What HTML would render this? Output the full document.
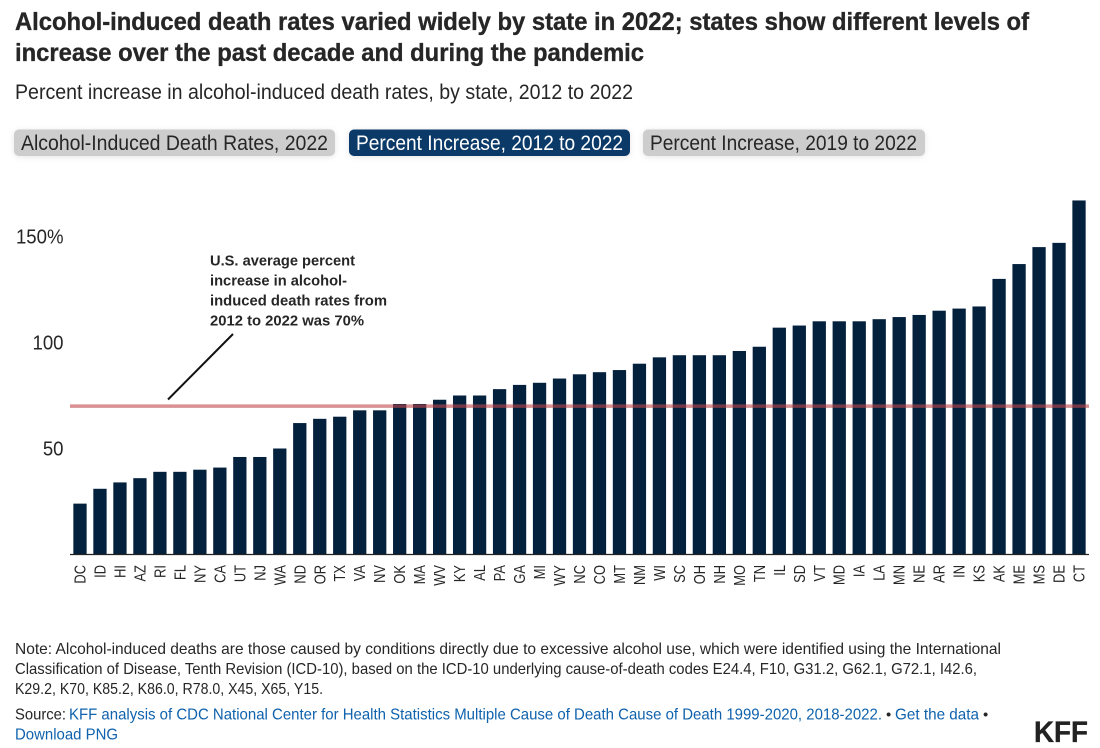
<!DOCTYPE html>
<html lang="en">
<head>
<meta charset="utf-8">
<title>Alcohol-induced death rates by state</title>
<style>
html,body{margin:0;padding:0;background:#fff;width:1100px;height:748px;overflow:hidden}
svg{display:block}
text{font-family:"Liberation Sans",sans-serif}
.heavy{stroke:#262626;stroke-width:.35px}
</style>
</head>
<body>
<svg id="chart" width="1100" height="748" viewBox="0 0 1100 748">
  <text class="heavy" x="15" y="30" font-size="25" font-weight="700" fill="#262626" textLength="1014" lengthAdjust="spacingAndGlyphs">Alcohol-induced death rates varied widely by state in 2022; states show different levels of</text>
  <text class="heavy" x="15" y="61" font-size="25" font-weight="700" fill="#262626" textLength="629" lengthAdjust="spacingAndGlyphs">increase over the past decade and during the pandemic</text>
  <text x="15" y="99" font-size="21" fill="#262626" textLength="618" lengthAdjust="spacingAndGlyphs">Percent increase in alcohol-induced death rates, by state, 2012 to 2022</text>

  <g>
    <rect x="14" y="129.500" width="321" height="26.500" rx="5" fill="#cdcdcd" style="filter:drop-shadow(0 1px 3px rgba(0,0,0,.1))"/>
    <text x="21" y="150" font-size="21" fill="#262626" textLength="307" lengthAdjust="spacingAndGlyphs">Alcohol-Induced Death Rates, 2022</text>
  </g>
  <g>
    <rect x="349" y="129.500" width="281" height="26.500" rx="5" fill="#0b3a68" style="filter:drop-shadow(0 1px 3px rgba(0,0,0,.1))"/>
    <text x="356" y="150" font-size="21" fill="#ffffff" textLength="267" lengthAdjust="spacingAndGlyphs">Percent Increase, 2012 to 2022</text>
  </g>
  <g>
    <rect x="643" y="129.500" width="282" height="26.500" rx="5" fill="#cdcdcd" style="filter:drop-shadow(0 1px 3px rgba(0,0,0,.1))"/>
    <text x="650" y="150" font-size="21" fill="#262626" textLength="267" lengthAdjust="spacingAndGlyphs">Percent Increase, 2019 to 2022</text>
  </g>

  <g id="y-axis"></g>
  <g id="bars"></g>
  <line id="baseline" stroke="#222" stroke-width="1.200"></line>
  <g id="x-axis"></g>
  <line id="avg-line" stroke="#c0474b" stroke-opacity="0.6" stroke-width="3.500"></line>

  <g>
    <text x="210" y="265.500" font-size="15" font-weight="700" fill="#262626" textLength="145" lengthAdjust="spacingAndGlyphs">U.S. average percent</text>
    <text x="210" y="285.500" font-size="15" font-weight="700" fill="#262626" textLength="137" lengthAdjust="spacingAndGlyphs">increase in alcohol-</text>
    <text x="210" y="305.500" font-size="15" font-weight="700" fill="#262626" textLength="177" lengthAdjust="spacingAndGlyphs">induced death rates from</text>
    <text x="210" y="325.500" font-size="15" font-weight="700" fill="#262626" textLength="154" lengthAdjust="spacingAndGlyphs">2012 to 2022 was 70%</text>
    <line x1="233" y1="334" x2="168" y2="399.500" stroke="#111" stroke-width="2"/>
  </g>

  <text x="15" y="654" font-size="16" fill="#262626" textLength="986" lengthAdjust="spacingAndGlyphs">Note: Alcohol-induced deaths are those caused by conditions directly due to excessive alcohol use, which were identified using the International</text>
  <text x="15" y="674" font-size="16" fill="#262626" textLength="962" lengthAdjust="spacingAndGlyphs">Classification of Disease, Tenth Revision (ICD-10), based on the ICD-10 underlying cause-of-death codes E24.4, F10, G31.2, G62.1, G72.1, I42.6,</text>
  <text x="15" y="694" font-size="16" fill="#262626" textLength="308" lengthAdjust="spacingAndGlyphs">K29.2, K70, K85.2, K86.0, R78.0, X45, X65, Y15.</text>

  <text x="15" y="719.500" font-size="16" fill="#262626" textLength="51" lengthAdjust="spacingAndGlyphs">Source:</text>
  <text x="69" y="719.500" font-size="16" fill="#0f62ad" textLength="813" lengthAdjust="spacingAndGlyphs">KFF analysis of CDC National Center for Health Statistics Multiple Cause of Death Cause of Death 1999-2020, 2018-2022.</text>
  <text x="886" y="719.500" font-size="15" fill="#262626">•</text>
  <text x="895" y="719.500" font-size="16" fill="#0f62ad" textLength="84" lengthAdjust="spacingAndGlyphs">Get the data</text>
  <text x="983" y="719.500" font-size="15" fill="#262626">•</text>
  <text x="15" y="739.500" font-size="16" fill="#0f62ad" textLength="103" lengthAdjust="spacingAndGlyphs">Download PNG</text>

  <text class="heavy" x="1034" y="742" font-size="30" font-weight="700" fill="#222" textLength="54" lengthAdjust="spacingAndGlyphs">KFF</text>
</svg>
<script>
const states = ["DC","ID","HI","AZ","RI","FL","NY","CA","UT","NJ","WA","ND","OR","TX","VA","NV","OK","MA","WV","KY","AL","PA","GA","MI","WY","NC","CO","MT","NM","WI","SC","OH","NH","MO","TN","IL","SD","VT","MD","IA","LA","MN","NE","AR","IN","KS","AK","ME","MS","DE","CT"];
const increases = [24,31,34,36,39,39,40,41,46,46,50,62,64,65,68,68,71,71,73,75,75,78,80,81,83,85,86,87,90,93,94,94,94,96,98,107,108,110,110,110,111,112,113,115,116,117,130,137,145,147,167];
const tickValues = [50,100,150];
const tickLabels = ["50","100","150%"];
const usAverage = [70];

const NS = "http://www.w3.org/2000/svg";
const left = 70, right = 1089, base = 554.5, unit = 2.12;
const step = (right - left) / states.length;
const barWidth = step * 0.665;
const xScale = i => left + step * i + step / 2;
const yScale = v => base - v * unit;

const barsGroup = document.getElementById("bars");
const xGroup = document.getElementById("x-axis");
const yGroup = document.getElementById("y-axis");

states.forEach((s, i) => {
  const r = document.createElementNS(NS, "rect");
  r.setAttribute("x", xScale(i) - barWidth / 2);
  r.setAttribute("y", yScale(increases[i]));
  r.setAttribute("width", barWidth);
  r.setAttribute("height", base - yScale(increases[i]));
  r.setAttribute("fill", "#03203d");
  
  
  barsGroup.appendChild(r);

  const t = document.createElementNS(NS, "text");
  const cx = xScale(i) + 5.5;
  t.setAttribute("transform", "translate(" + cx + ",565) rotate(-90) scale(0.92,1.1)");
  t.setAttribute("text-anchor", "end");
  t.setAttribute("font-size", "14");
  t.setAttribute("fill", "#262626");
  t.textContent = s;
  
  
  xGroup.appendChild(t);
});

tickValues.forEach((v, i) => {
  const t = document.createElementNS(NS, "text");
  t.setAttribute("transform", "translate(63.5," + (yScale(v) + 7) + ") scale(0.93,1)");
  t.setAttribute("text-anchor", "end");
  t.setAttribute("font-size", "20");
  t.setAttribute("fill", "#262626");
  t.textContent = tickLabels[i];
  
  
  yGroup.appendChild(t);
});

const bl = document.getElementById("baseline");
bl.setAttribute("x1", left);
bl.setAttribute("x2", right);
bl.setAttribute("y1", base);
bl.setAttribute("y2", base);

const avg = document.getElementById("avg-line");
avg.setAttribute("x1", left);
avg.setAttribute("x2", right);
avg.setAttribute("y1", yScale(usAverage[0]));
avg.setAttribute("y2", yScale(usAverage[0]));
</script>
</body>
</html>
